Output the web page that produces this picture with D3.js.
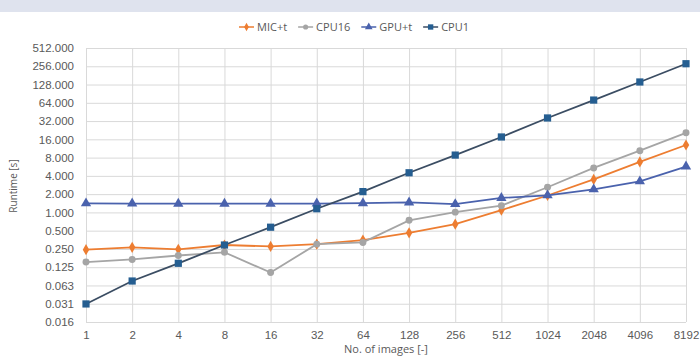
<!DOCTYPE html>
<html>
<head>
<meta charset="utf-8">
<script src="https://cdn.jsdelivr.net/npm/d3@7"></script>
<style>
  body { margin: 0; background: #fff; }
  svg { display: block; font-family: "Open Sans", sans-serif; }
  .tick text { fill: #595959; font-size: 11.5px; }
  .tick line { stroke: #d9d9d9; stroke-width: 1; }
  .axis-label { fill: #595959; font-size: 11px; }
  .legend text { fill: #595959; font-size: 11px; }
</style>
</head>
<body>
<svg width="700" height="356"></svg>
<script>
const categories = ['1', '2', '4', '8', '16', '32', '64', '128', '256', '512', '1024', '2048', '4096', '8192'];

const micT  = [0.243, 0.266, 0.246, 0.29, 0.275, 0.30, 0.35, 0.46, 0.64, 1.09, 1.9, 3.5, 6.8, 12.9];
const cpu16 = [0.152, 0.168, 0.195, 0.22, 0.102, 0.30, 0.32, 0.74, 1.01, 1.29, 2.6, 5.4, 10.4, 20.5];
const gpuT  = [1.41, 1.40, 1.39, 1.39, 1.39, 1.40, 1.42, 1.46, 1.37, 1.73, 1.91, 2.4, 3.25, 5.7];
const cpu1  = [0.031, 0.074, 0.145, 0.29, 0.57, 1.15, 2.2, 4.5, 8.8, 17.5, 36, 71, 141, 282];

const yTickValues = [0.015625, 0.03125, 0.0625, 0.125, 0.25, 0.5, 1, 2, 4, 8, 16, 32, 64, 128, 256, 512];

const seriesNames = ['MIC+t', 'CPU16', 'GPU+t', 'CPU1'];
const seriesValues = [micT, cpu16, gpuT, cpu1];
const seriesLine = ['#ed7d31', '#a5a5a5', '#4a62ad', '#3b4d63'];
const seriesFill = ['#ed7d31', '#a5a5a5', '#4a62ad', '#255e91'];
const seriesSymbol = [d3.symbolDiamond, d3.symbolCircle, d3.symbolTriangle, d3.symbolSquare];
const seriesSymbolSize = [36, 38, 46, 52];

const svg = d3.select('svg');
const width = +svg.attr('width');
const height = +svg.attr('height');

const margin = { top: 48, right: 14, bottom: 34, left: 86 };
const innerWidth = width - margin.left - margin.right;
const innerHeight = height - margin.top - margin.bottom;

// light band at the top of the picture
svg.append('rect')
    .attr('x', 0).attr('y', 0)
    .attr('width', width).attr('height', 12)
    .attr('fill', '#dfe3ee');

const xScale = d3.scalePoint()
    .domain(categories)
    .range([0, innerWidth]);

const yScale = d3.scaleLog()
    .base(2)
    .domain([yTickValues[0], yTickValues[yTickValues.length - 1]])
    .range([innerHeight, 0]);

const g = svg.append('g')
    .attr('transform', `translate(${margin.left},${margin.top})`);

const yAxisG = g.append('g')
    .call(d3.axisLeft(yScale)
        .tickValues(yTickValues)
        .tickFormat(d3.format('.3f'))
        .tickSize(-innerWidth)
        .tickPadding(12));
yAxisG.select('.domain').remove();

const xAxisG = g.append('g')
    .attr('transform', `translate(0,${innerHeight})`)
    .call(d3.axisBottom(xScale)
        .tickSize(-innerHeight)
        .tickPadding(9));
xAxisG.select('.domain').remove();

g.selectAll('.tick text').attr('font-family', null).attr('font-size', null);

// axis titles
svg.append('text')
    .attr('class', 'axis-label')
    .attr('transform', 'translate(17,186) rotate(-90)')
    .attr('text-anchor', 'middle')
    .style('font-size', '10px')
    .text('Runtime [s]');

svg.append('text')
    .attr('class', 'axis-label')
    .attr('x', margin.left + innerWidth / 2)
    .attr('y', 353)
    .attr('text-anchor', 'middle')
    .text('No. of images [-]');

// series
const line = d3.line()
    .x((d, i) => xScale(categories[i]))
    .y(d => yScale(d));

seriesValues.forEach((vals, s) => {
    g.append('path')
        .attr('d', line(vals))
        .attr('fill', 'none')
        .attr('stroke', seriesLine[s])
        .attr('stroke-width', 1.8);

    g.selectAll(null)
        .data(vals)
        .join('path')
        .attr('transform', (d, i) => `translate(${xScale(categories[i])},${yScale(d)})`)
        .attr('d', d3.symbol(seriesSymbol[s], seriesSymbolSize[s]))
        .attr('fill', seriesFill[s]);
});

// legend
const legend = svg.append('g').attr('class', 'legend');
let lx = 0;
seriesNames.forEach((name, s) => {
    const item = legend.append('g').attr('transform', `translate(${lx},0)`);
    item.append('line')
        .attr('x1', 0).attr('x2', 15)
        .attr('y1', 0).attr('y2', 0)
        .attr('stroke', seriesLine[s])
        .attr('stroke-width', 1.5);
    item.append('path')
        .attr('transform', 'translate(7.5,0)')
        .attr('d', d3.symbol(seriesSymbol[s], seriesSymbolSize[s] * 0.55))
        .attr('fill', seriesFill[s]);
    const t = item.append('text')
        .attr('x', 18)
        .attr('dy', '0.35em')
        .text(name);
    lx += 18 + t.node().getComputedTextLength() + 11;
});
legend.attr('transform', `translate(${354 - (lx - 11) / 2},27)`);
</script>
</body>
</html>
